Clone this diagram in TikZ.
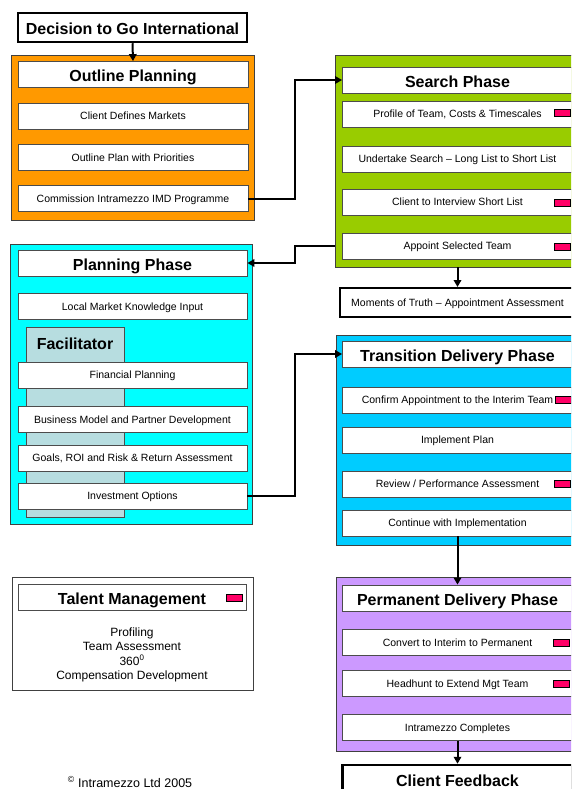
\documentclass[tikz,border=0pt]{standalone}
\usepackage{fontspec}
\setmainfont{Liberation Sans}
\usepackage{xcolor}
\usetikzlibrary{arrows.meta}
\definecolor{opOrange}{RGB}{255,153,0}
\definecolor{spGreen}{RGB}{153,204,0}
\definecolor{ppCyan}{RGB}{0,255,255}
\definecolor{tdBlue}{RGB}{0,204,255}
\definecolor{pdPurple}{RGB}{204,153,255}
\definecolor{facGrey}{RGB}{183,221,224}
\definecolor{flagRed}{RGB}{255,0,102}

\begin{document}
\begin{tikzpicture}[x=1pt, y=-1pt,
    panel/.style={draw=black!75, line width=0.8pt, inner sep=0pt},
    phase/.style={draw=black!70, fill=white, line width=0.8pt, minimum width=230pt, minimum height=26pt, inner sep=0pt, text height=14.5pt, text depth=0pt, font=\fontsize{16}{18}\selectfont\bfseries},
    item/.style={draw=black!70, fill=white, line width=0.8pt, minimum width=230pt, minimum height=26pt, inner sep=0pt, text height=7.6pt, text depth=0pt, font=\fontsize{10.5}{12}\selectfont},
    milestone/.style={draw=black, fill=white, line width=2.5pt, inner sep=0pt, text height=13.5pt, text depth=0pt, font=\fontsize{16}{18}\selectfont\bfseries},
    flag/.style={draw=black, fill=flagRed, line width=0.8pt, minimum width=16pt, minimum height=7pt, inner sep=0pt},
    link/.style={line width=2pt, -{Triangle[length=7pt,width=7.5pt]}}]
  \useasboundingbox (0,0) rectangle (571,789);
  \clip (0,0) rectangle (571,789);

  % phase panels
  \node[panel, fill=opOrange, minimum width=243pt, minimum height=165pt] (oppanel) at (132.5,137.5) {};
  \node[panel, fill=spGreen, minimum width=245pt, minimum height=212pt] (sppanel) at (457.5,161) {};
  \node[panel, fill=ppCyan, minimum width=242pt, minimum height=280pt] (pppanel) at (131,384) {};
  \node[panel, fill=tdBlue, minimum width=244pt, minimum height=210pt] (tdpanel) at (458,440) {};
  \node[panel, fill=pdPurple, minimum width=244pt, minimum height=174pt] (pdpanel) at (458,664) {};
  \node[panel, fill=white, minimum width=241pt, minimum height=113pt] (tmpanel) at (132.5,633.5) {};

  \node[milestone, minimum width=229pt, minimum height=29pt] (decision) at (132.5,27.5) {Decision to Go International};

  % outline planning
  \node[phase] (optitle) at (133,74.5) {Outline Planning};
  \node[item] (markets) at (133,116) {Client Defines Markets};
  \node[item] (priorities) at (133,157.5) {Outline Plan with Priorities};
  \node[item] (commission) at (133,198.5) {Commission Intramezzo IMD Programme};

  % search phase
  \node[phase] (sptitle) at (457.5,80) {Search Phase};
  \node[item] (profile) at (457.5,114) {Profile of Team, Costs \& Timescales};
  \node[item] (undertake) at (457.5,159) {Undertake Search -- Long List to Short List};
  \node[item] (interview) at (457.5,202) {Client to Interview Short List};
  \node[item] (appoint) at (457.5,246) {Appoint Selected Team};
  \node[milestone, line width=2pt, minimum width=235pt, minimum height=29pt, text height=7.6pt, text depth=0pt, font=\fontsize{10.5}{12}\selectfont] (moments) at (457.5,302.5) {Moments of Truth -- Appointment Assessment};

  % planning phase
  \node[draw=black!70, fill=facGrey, line width=0.8pt, minimum width=98pt, minimum height=190pt] (facil) at (75,422) {};
  \node[font=\fontsize{16}{18}\selectfont\bfseries] (faclabel) at (75,344) {Facilitator};
  \node[phase, minimum width=229pt] (pptitle) at (132.5,263) {Planning Phase};
  \node[item, minimum width=229pt] (localmkt) at (132.5,306.5) {Local Market Knowledge Input};
  \node[item, minimum width=229pt] (financial) at (132.5,375) {Financial Planning};
  \node[item, minimum width=229pt] (business) at (132.5,419.5) {Business Model and Partner Development};
  \node[item, minimum width=229pt] (goals) at (132.5,458) {Goals, ROI and Risk \& Return Assessment};
  \node[item, minimum width=229pt] (invest) at (132.5,496) {Investment Options};

  % transition delivery
  \node[phase] (tdtitle) at (457.5,354) {Transition Delivery Phase};
  \node[item] (confirm) at (457.5,400) {Confirm Appointment to the Interim Team};
  \node[item] (implement) at (457.5,440) {Implement Plan};
  \node[item] (review) at (457.5,484) {Review / Performance Assessment};
  \node[item] (continue) at (457.5,523) {Continue with Implementation};

  % permanent delivery
  \node[phase] (pdtitle) at (457.5,598) {Permanent Delivery Phase};
  \node[item] (convert) at (457.5,642.5) {Convert to Interim to Permanent};
  \node[item] (headhunt) at (457.5,683.5) {Headhunt to Extend Mgt Team};
  \node[item] (completes) at (457.5,727.5) {Intramezzo Completes};
  \node[milestone, minimum width=230pt, minimum height=32pt, text height=11.5pt] (feedback) at (457.5,781) {Client Feedback};

  % talent management
  \node[phase, minimum width=228pt] (tmtitle) at (132,597.5) {Talent Management};
  \node[align=center, font=\fontsize{12}{14.3}\selectfont] (tmlist) at (132,655) {Profiling\\Team Assessment\\360\textsuperscript{0}\\Compensation Development};
  \node[font=\fontsize{12.5}{14}\selectfont] (copyright) at (130,782) {\textsuperscript{\textcopyright} Intramezzo Ltd 2005};

  % red flags
  \node[flag] (fprofile) at (562.5,113) {};
  \node[flag] (finterview) at (562.5,202.5) {};
  \node[flag] (fappoint) at (562.5,246.5) {};
  \node[flag] (fconfirm) at (563,399.5) {};
  \node[flag] (freview) at (562.5,484) {};
  \node[flag] (fconvert) at (561,642.5) {};
  \node[flag] (fheadhunt) at (561,683.5) {};
  \node[flag] (ftalent) at (234.5,598) {};

  % connectors
  \draw[link] (decision.south) -- (optitle.north);
  \draw[link] (commission.east) -- ++(47,0) |- (sptitle.west);
  \draw[link] (sppanel.west |- appoint.west) -- ++(-40,0) |- (pptitle.east);
  \draw[link] (invest.east) -- ++(48,0) |- (tdtitle.west);
  \draw[link] (sppanel.south) -- (moments.north);
  \draw[link] (continue.south) -- (pdtitle.north);
  \draw[link] (completes.south) -- (feedback.north);
\end{tikzpicture}
\end{document}
